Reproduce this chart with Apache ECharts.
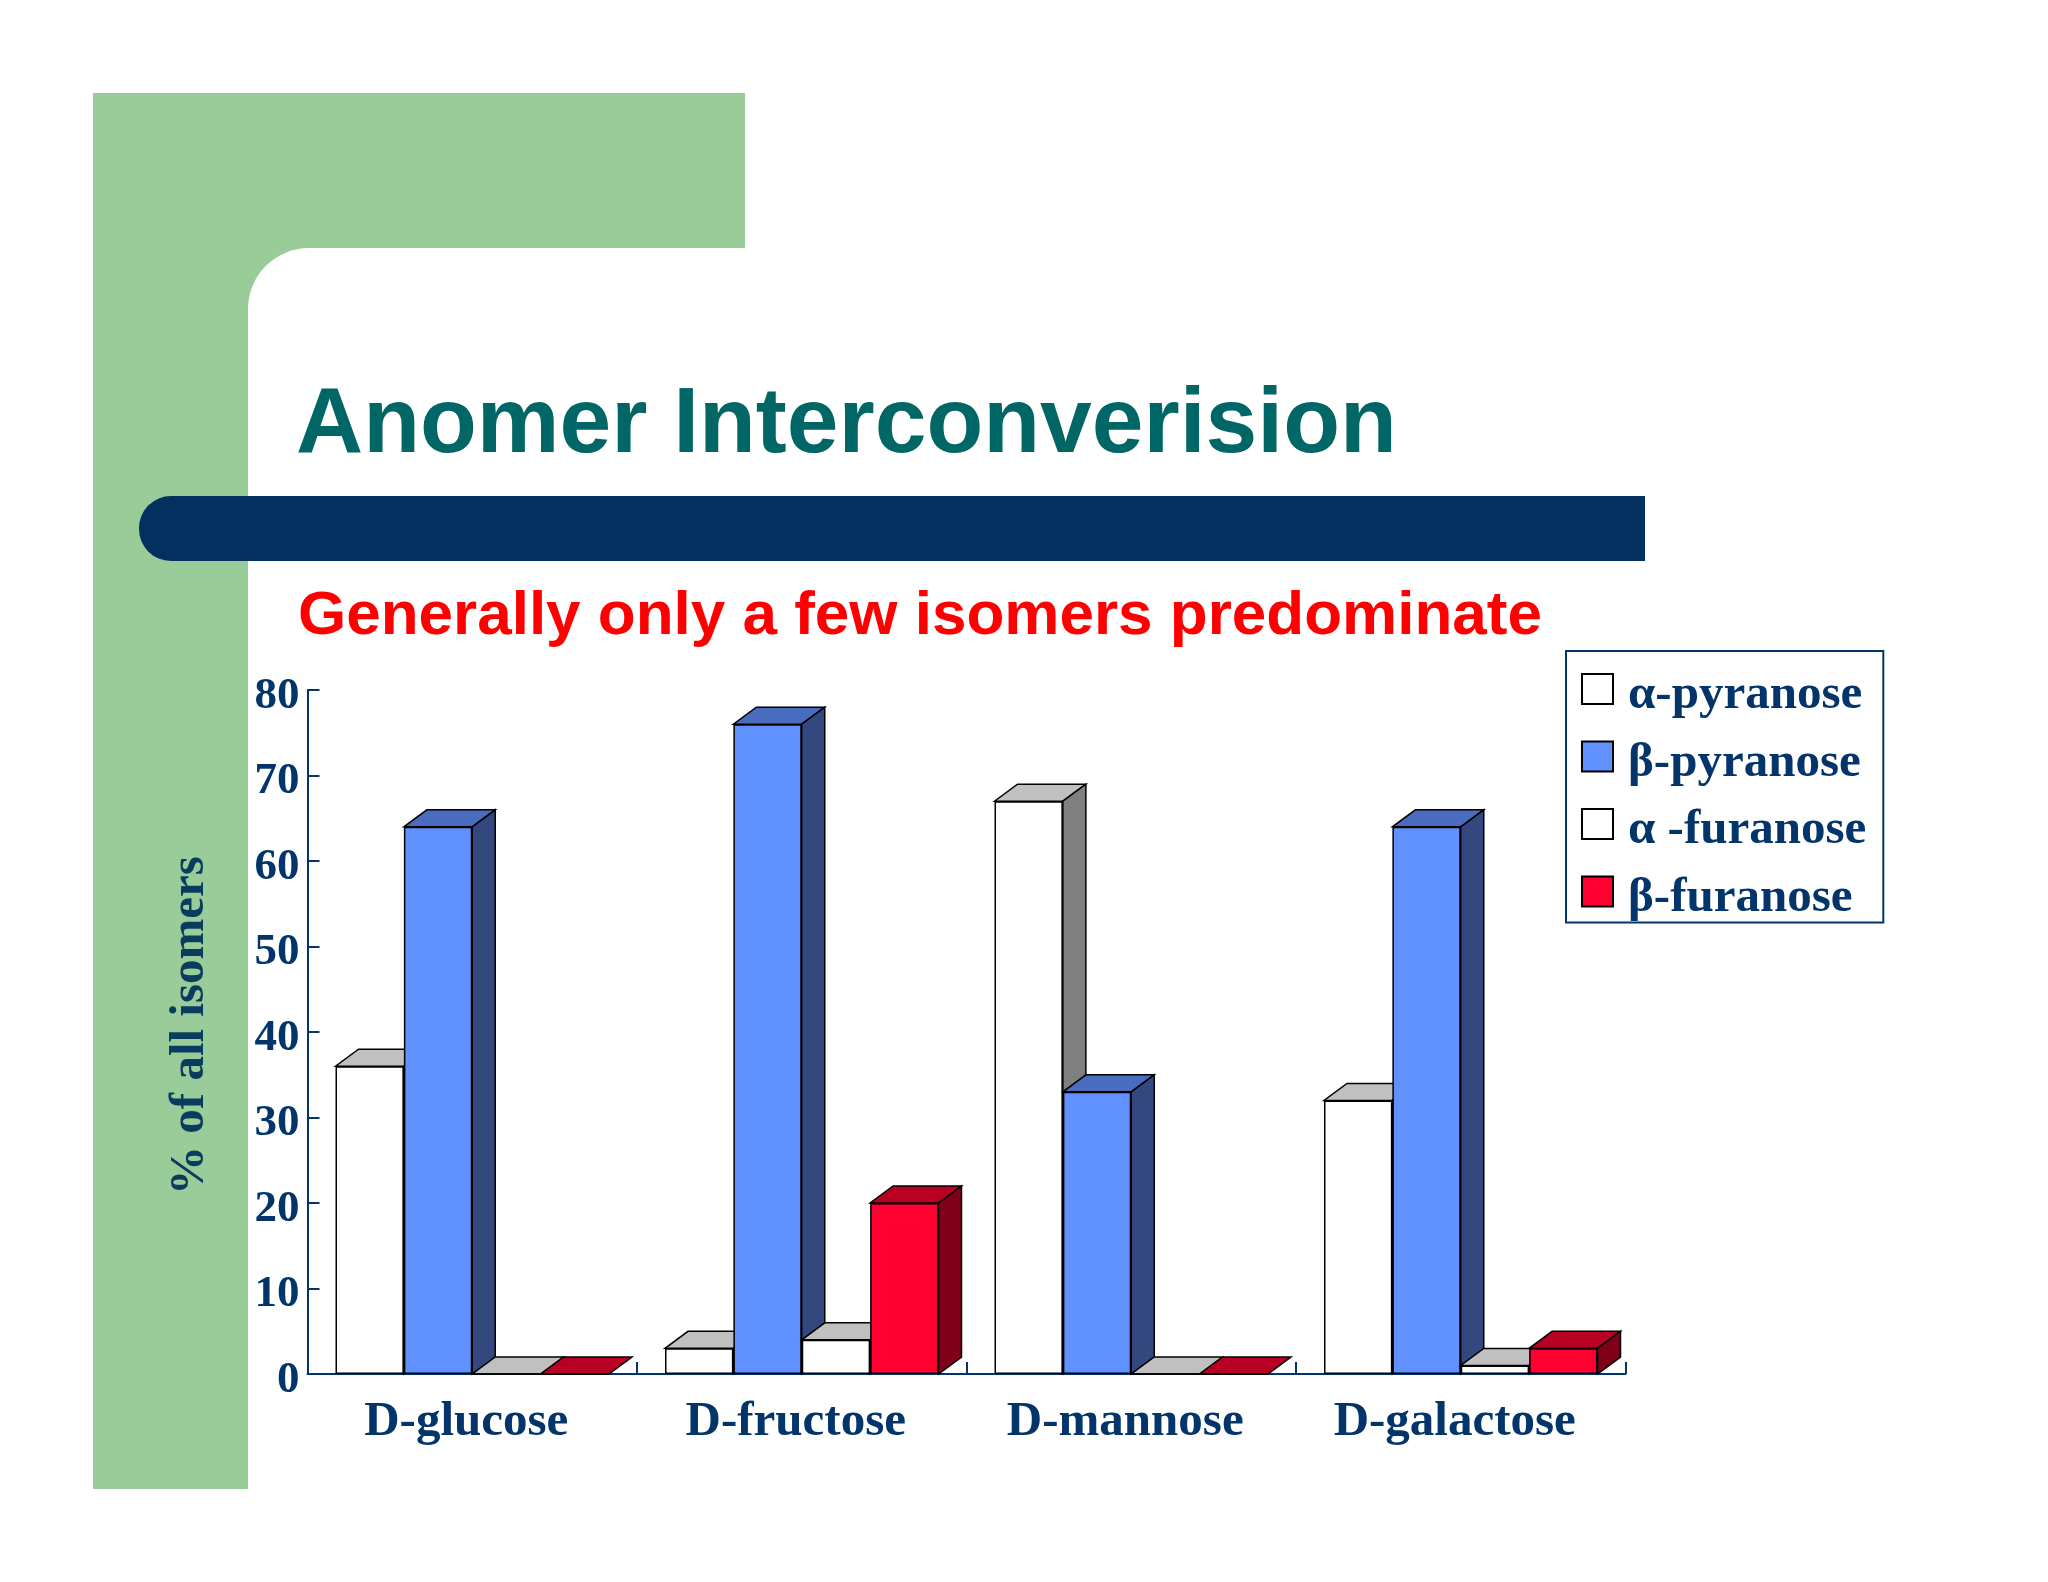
<!DOCTYPE html>
<html>
<head>
<meta charset="utf-8">
<style>html,body{margin:0;padding:0;background:#fff}#c{width:2048px;height:1582px}</style>
<script src="https://cdn.jsdelivr.net/npm/echarts@6/dist/echarts.min.js"></script>
</head>
<body>
<div id="c"></div>
<script>
const categories = ['D-glucose', 'D-fructose', 'D-mannose', 'D-galactose'];
const yTicks = [0, 10, 20, 30, 40, 50, 60, 70, 80];
const alphaPyranose = [36, 3, 67, 32];
const betaPyranose = [64, 76, 33, 64];
const alphaFuranose = [0, 4, 0, 1];
const betaFuranose = [0, 20, 0, 3];
const seriesNames = ['α-pyranose', 'β-pyranose', 'α -furanose', 'β-furanose'];
const seriesValues = [alphaPyranose, betaPyranose, alphaFuranose, betaFuranose];

const frontColors = ['#ffffff', '#6190ff', '#ffffff', '#ff0030'];
const topColors = ['#c0c0c0', '#4a6cbf', '#c0c0c0', '#b80022'];
const sideColors = ['#808080', '#33487f', '#808080', '#7f0018'];
const NAVY = '#03356b';
const GAP = 0.17, DX = 23, DY = 17;
const SERIF = '"Liberation Serif", serif';
const SANS = '"Liberation Sans", Arial, sans-serif';

function depthFaces(si) {
  return function (params, api) {
    const cat = api.value(0), val = api.value(1);
    const base = api.coord([cat, 0]);
    const top = api.coord([cat, val]);
    const band = api.size([1, 0])[0];
    const w = band * (1 - GAP) / seriesValues.length;
    const x0 = base[0] - band * (1 - GAP) / 2 + si * w;
    const x1 = x0 + w;
    const y = top[1], b = base[1];
    const stroke = { stroke: '#000', lineWidth: 1.5, lineJoin: 'miter' };
    const children = [{
      type: 'polygon',
      shape: { points: [[x0, y], [x1, y], [x1 + DX, y - DY], [x0 + DX, y - DY]] },
      style: Object.assign({ fill: topColors[si] }, stroke)
    }];
    if (val > 0) {
      children.push({
        type: 'polygon',
        shape: { points: [[x1, y], [x1 + DX, y - DY], [x1 + DX, b - DY], [x1, b]] },
        style: Object.assign({ fill: sideColors[si] }, stroke)
      });
    }
    return { type: 'group', children };
  };
}

const series = [];
seriesNames.forEach((name, si) => {
  series.push({
    type: 'custom', name: name + ' depth', z: 3 + si * 2, silent: true,
    encode: { x: 0, y: 1 },
    data: seriesValues[si].map((v, i) => [i, v]),
    renderItem: depthFaces(si), clip: false
  });
  series.push({
    type: 'bar', name, z: 4 + si * 2, barGap: 0, barCategoryGap: '17%',
    data: seriesValues[si],
    itemStyle: { color: frontColors[si], borderColor: '#000', borderWidth: 1.5 },
    animation: false
  });
});

const GREEN = '#99cc99';
const chart = echarts.init(document.getElementById('c'), null, { renderer: 'canvas' });
chart.setOption({
  animation: false,
  backgroundColor: '#ffffff',
  graphic: [
    { type: 'rect', z: 0, shape: { x: 93, y: 93, width: 652, height: 155 }, style: { fill: GREEN } },
    { type: 'rect', z: 0, shape: { x: 93, y: 93, width: 155, height: 1396 }, style: { fill: GREEN } },
    { type: 'rect', z: 0, shape: { x: 248, y: 248, width: 60, height: 60 }, style: { fill: GREEN } },
    { type: 'circle', z: 0, shape: { cx: 309, cy: 309, r: 61 }, style: { fill: '#ffffff' } },
    { type: 'rect', z: 1, shape: { x: 139, y: 496, width: 1506, height: 65, r: [32, 0, 0, 32] }, style: { fill: '#03305f' } }
  ],
  title: [
    { text: 'Anomer Interconverision', left: 296, top: 380, padding: 0,
      textStyle: { fontFamily: SANS, fontWeight: 'bold', fontSize: 93, color: '#006666' } },
    { text: 'Generally only a few isomers predominate', left: 298, top: 586, padding: 0,
      textStyle: { fontFamily: SANS, fontWeight: 'bold', fontSize: 62, color: '#ff0000' } }
  ],
  legend: {
    data: seriesNames, orient: 'vertical', left: 1566, top: 651,
    padding: [7, 17, 0, 15], itemWidth: 31, itemHeight: 30, itemGap: 5.5,
    icon: 'rect', backgroundColor: '#fff', borderColor: NAVY, borderWidth: 2, borderRadius: 0,
    itemStyle: { borderColor: '#000', borderWidth: 2 },
    selectedMode: false,
    formatter: name => '{a|' + name + '}',
    textStyle: {
      rich: { a: { fontFamily: SERIF, fontWeight: 'bold', fontSize: 49, color: NAVY, lineHeight: 20, padding: [13, 0, 0, 10] } }
    }
  },
  grid: { left: 307.5, right: 2048 - 1625.5, top: 690, bottom: 1582 - 1374, containLabel: false },
  xAxis: {
    type: 'category', data: categories,
    axisLine: { lineStyle: { color: NAVY, width: 2 } },
    axisTick: { show: true, inside: true, length: 12, lineStyle: { color: NAVY, width: 2 } },
    splitLine: { show: false },
    axisLabel: { fontFamily: SERIF, fontWeight: 'bold', fontSize: 49, color: NAVY, margin: 24, padding: [0, 12, 0, 0] }
  },
  yAxis: {
    type: 'value', min: 0, max: 80, interval: 10,
    name: '% of all isomers', nameLocation: 'middle', nameGap: 93, nameRotate: 90,
    nameTextStyle: { fontFamily: SERIF, fontWeight: 'bold', fontSize: 49, color: '#0a3c5e', padding: [0, 0, 0, 13] },
    axisLine: { show: true, lineStyle: { color: NAVY, width: 2 } },
    axisTick: { show: true, inside: true, length: 12, lineStyle: { color: NAVY, width: 2 } },
    splitLine: { show: false },
    axisLabel: { fontFamily: SERIF, fontWeight: 'bold', fontSize: 45, color: NAVY, margin: 8, verticalAlign: 'top', lineHeight: 12,
      formatter: v => String(yTicks[yTicks.indexOf(v)]) }
  },
  series
});
</script>
</body>
</html>
